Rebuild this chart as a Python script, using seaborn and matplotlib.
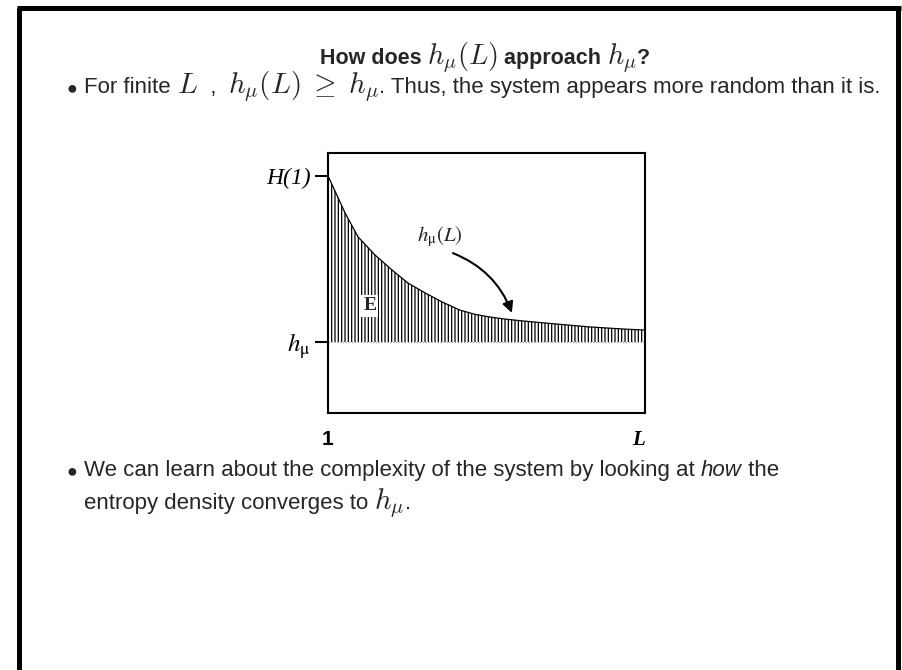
import matplotlib
matplotlib.use("Agg")
import matplotlib.pyplot as plt
from matplotlib.lines import Line2D
import numpy as np
import pandas as pd
import seaborn as sns

# Block-entropy density h_mu(L) versus block length L (normalised axes)
L_pos = [0.0, 0.054, 0.095, 0.148, 0.202, 0.252, 0.306, 0.360, 0.416,
         0.462, 0.511, 0.560, 0.615, 0.722, 0.826, 0.931, 1.0]
h_L = [0.912, 0.769, 0.677, 0.608, 0.550, 0.500, 0.462, 0.427, 0.396,
       0.380, 0.369, 0.361, 0.354, 0.342, 0.331, 0.323, 0.319]
H1 = 0.912      # H(1)
h_mu = 0.273    # entropy rate
x_tick_labels = ["1", "L"]

sns.set_theme(style="white")
plt.rcParams["font.family"] = ["Liberation Sans", "DejaVu Sans"]
plt.rcParams["mathtext.fontset"] = "cm"
plt.rcParams["hatch.linewidth"] = 0.9

df = pd.DataFrame({"L": L_pos, "h": h_L})

fig = plt.figure(figsize=(9.03, 6.70), dpi=100)
W, H = 903, 670

def fx(px):
    return px / W

def fy(py):
    return 1 - py / H

# slide frame (top, left, right)
for xs, ys in [((fx(19.5), fx(19.5)), (0, fy(7.5))),
               ((fx(898.5), fx(898.5)), (0, fy(7.5))),
               ((fx(17), fx(901)), (fy(7.5), fy(7.5)))]:
    fig.add_artist(Line2D(xs, ys, color="black", lw=3.6,
                          transform=fig.transFigure, solid_capstyle="butt"))

renderer = fig.canvas.get_renderer()

def runs(x0, y0, parts, ha="left"):
    """Place text pieces one after another on a baseline."""
    arts = []
    x = x0
    for s, kw in parts:
        t = fig.text(x, y0, s, va="baseline", ha="left", **kw)
        bb = t.get_window_extent(renderer)
        x = x + bb.width / W
        arts.append(t)
    if ha == "center":
        total = x - x0
        for a in arts:
            px, py = a.get_position()
            a.set_position((px - total / 2, py))
    return arts

math_kw = dict(fontsize=21, math_fontfamily="cm")
title_math = dict(fontsize=20.5, math_fontfamily="cm")
title_kw = dict(fontsize=15.5, fontweight="bold")
body = dict(fontsize=16)

# title
runs(fx(485), fy(64), [
    ("How does ", title_kw),
    (r"$h_\mu(L)$", title_math),
    (" approach ", title_kw),
    (r"$h_\mu$", title_math),
    ("?", title_kw),
], ha="center")

fig.text(fx(72), fy(93), "\u25CF", fontsize=13, va="baseline", ha="center")
runs(fx(84), fy(93), [
    ("For finite ", body),
    (r"$L$", math_kw),
    ("  ,  ", body),
    (r"$h_\mu(L) \;\geq\; h_\mu$", math_kw),
    (". Thus, the system appears more random than it is.", body),
])

fig.text(fx(72), fy(476), "\u25CF", fontsize=13, va="baseline", ha="center")
runs(fx(84), fy(476), [
    ("We can learn about the complexity of the system by looking at ", body),
    ("how", dict(fontsize=16, style="italic")),
    (" the", body),
])
runs(fx(84), fy(509), [
    ("entropy density converges to ", body),
    (r"$h_\mu$", math_kw),
    (".", body),
])

# the plot itself
ax = fig.add_axes([328 / W, 1 - 413 / H, 317 / W, 260 / H])
ax.fill_between(df["L"], h_mu, df["h"], facecolor="none", edgecolor="black",
                hatch="|||||", linewidth=0)
ax.axhline(h_mu, color="0.55", lw=0.8, ls=":")
sns.lineplot(data=df, x="L", y="h", ax=ax, color="black", lw=0.9)

ax.set_xlim(0, 1)
ax.set_ylim(0, 1)
ax.set_xlabel("")
ax.set_ylabel("")
for sp in ax.spines.values():
    sp.set_visible(True)
    sp.set_color("black")
    sp.set_linewidth(1.5)

ax.set_yticks([h_mu, H1])
ax.set_yticklabels([r"$\mathit{h}_{\mathrm{\mu}}$", "H(1)"])
ax.tick_params(axis="y", left=True, length=9.5, width=1.5, direction="out",
               pad=3, labelsize=17, colors="black")
yl = ax.get_yticklabels()
yl[0].set_math_fontfamily("stix")
yl[0].set_fontsize(18)
yl[1].set_family("Liberation Serif")
yl[1].set_style("italic")

ax.set_xticks([0, 1])
ax.set_xticklabels(x_tick_labels)
ax.tick_params(axis="x", bottom=False, length=0, pad=12, labelsize=15,
               colors="black")
xl = ax.get_xticklabels()
xl[0].set_fontweight("bold")
xl[1].set_family("Liberation Serif")
xl[1].set_style("italic")
xl[1].set_fontweight("bold")
xl[1].set_horizontalalignment("right")

ax.text(0.132, 0.412, "E", ha="center", va="center", fontsize=14,
        family="Liberation Serif", fontweight="bold",
        bbox=dict(facecolor="white", edgecolor="none", pad=1.5))

ax.text(0.353, 0.677, r"$\mathit{h}_{\mathrm{\mu}}\mathit{(L)}$",
        ha="center", va="center", fontsize=15, math_fontfamily="stix")
ax.annotate("", xy=(0.580, 0.385), xytext=(0.394, 0.615),
            arrowprops=dict(arrowstyle="-|>", color="black", lw=1.5,
                            mutation_scale=16,
                            connectionstyle="arc3,rad=-0.22",
                            shrinkA=0, shrinkB=0))

fig.savefig("out.png", dpi=100)
